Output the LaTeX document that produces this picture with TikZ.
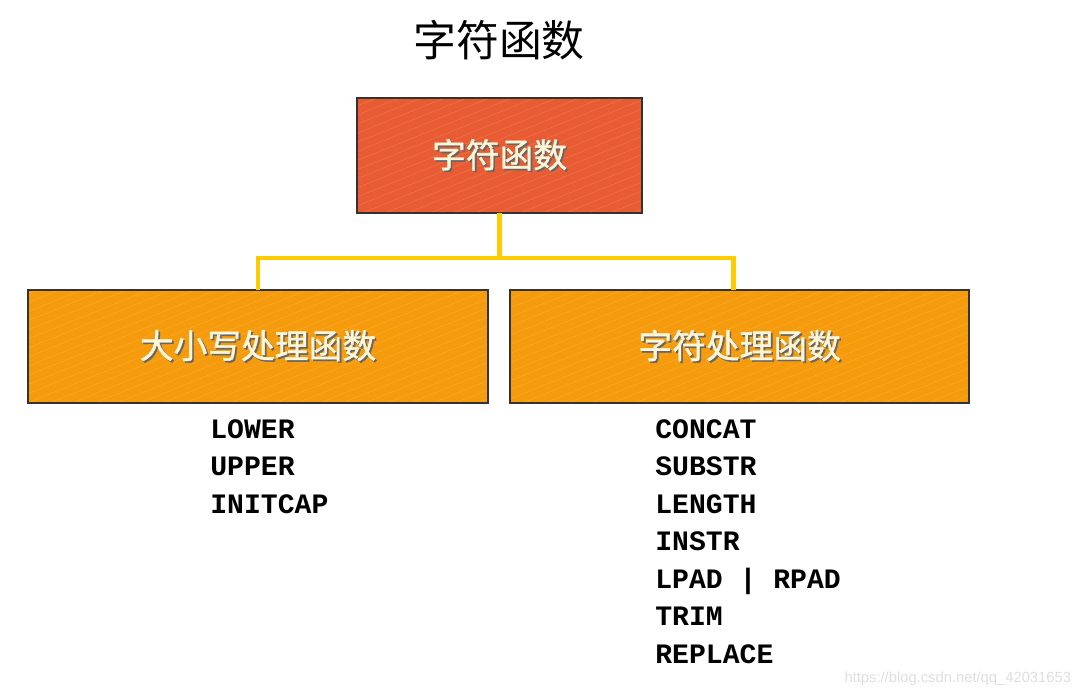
\documentclass[tikz,border=0pt]{standalone}
\usepackage{fontspec}
\setmainfont{Noto Sans CJK SC}
\newfontfamily\boxfont[FakeBold=1.2]{Noto Sans CJK SC}
\newfontfamily\codefont{Liberation Mono}
\newfontfamily\urlfont{Liberation Sans}
\usepackage{xcolor}
\usetikzlibrary{positioning, patterns.meta}
\definecolor{topfill}{HTML}{E95C33}
\definecolor{subfill}{HTML}{F59B0C}
\definecolor{linkyellow}{HTML}{FFCC00}
\definecolor{capcream}{HTML}{FFF6D8}
\newcommand{\shtext}[1]{\makebox[0pt][l]{\kern1.2pt\raisebox{-1.2pt}{\color{black!60}#1}}#1}
\tikzset{
  funcbox/.style={rectangle, fill=#1, text=capcream,
    font=\boxfont\fontsize{24}{28}\selectfont,
    postaction={pattern={Lines[angle=22, distance=6pt, line width=0.3pt]}, pattern color=#1!82!white},
    postaction={draw=black!80, line width=0.9pt}},
  topbox/.style={funcbox=topfill, minimum width=7.125cm, minimum height=2.875cm},
  subbox/.style={funcbox=subfill, minimum width=11.5cm, minimum height=2.825cm},
  link/.style={draw=linkyellow, line width=3.5pt},
  item/.style={anchor=base west, inner sep=0pt, font=\codefont\bfseries\fontsize{20}{24}\selectfont}
}
\begin{document}
\begin{tikzpicture}
\useasboundingbox (0,0) rectangle (27.1,-17.4);

% title
\node (title) at (12.475,-1.0) {\fontsize{30.5}{34}\selectfont 字符函数};

% boxes
\node[topbox] (chars) at (12.49,-3.89) {\shtext{字符函数}};
\node[subbox] (casefn) at (6.45,-8.66) {\shtext{大小写处理函数}};
\node[subbox, minimum width=11.475cm] (charfn) at (18.49,-8.66) {\shtext{字符处理函数}};

% connector
\coordinate (fork) at (12.49,-6.45);
\draw[link] (chars.south) -- (fork) -| (casefn.north);
\draw[link] (fork) -| ([xshift=-0.16cm]charfn.north);

% function names
\foreach \fn [count=\i] in {LOWER, UPPER, INITCAP}
  \node[item] (case\i) at (5.25,{-10.95-0.9375*(\i-1)}) {\fn};
\foreach \fn [count=\i] in {CONCAT, SUBSTR, LENGTH, INSTR, {LPAD | RPAD}, TRIM, REPLACE}
  \node[item] (char\i) at (16.375,{-10.95-0.9375*(\i-1)}) {\fn};

% watermark
\node[anchor=east, text=black!13, font=\urlfont\fontsize{10.5}{12}\selectfont] (mark) at (26.9,-16.97) {https://blog.csdn.net/qq\_42031653};
\end{tikzpicture}
\end{document}
